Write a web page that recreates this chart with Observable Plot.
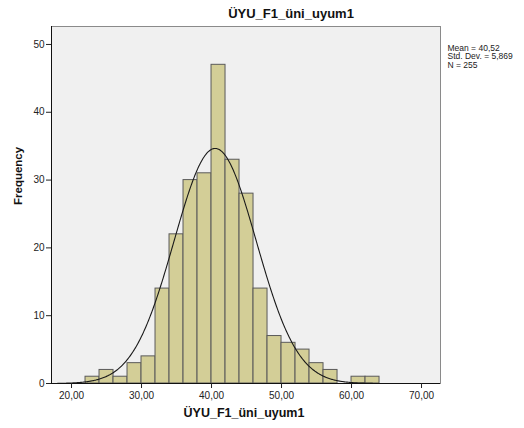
<!DOCTYPE html>
<html>
<head>
<meta charset="utf-8">
<script src="https://cdn.jsdelivr.net/npm/d3@7"></script>
<script src="https://cdn.jsdelivr.net/npm/@observablehq/plot@0.6"></script>
<style>
  html, body { margin: 0; padding: 0; background: #fff; }
  svg { font-family: "Liberation Sans", Arial, sans-serif; display: block; }
</style>
</head>
<body>
<div id="chart"></div>
<script>
// Histogram bins (lower edges, width 2) and frequencies
const binStarts = [22, 24, 26, 28, 30, 32, 34, 36, 38, 40, 42, 44, 46, 48, 50, 52, 54, 56, 58, 60, 62];
const counts    = [ 1,  2,  1,  3,  4, 14, 22, 30, 31, 47, 33, 28, 14,  7,  6,  5,  3,  2,  0,  1,  1];
const binWidth = 2;
// Summary statistics shown in the legend
const mean = 40.52;
const sd = 5.869;
const n = 255;
const xTicks = [20, 30, 40, 50, 60, 70];
const yTicks = [0, 10, 20, 30, 40, 50];
const title = "ÜYU_F1_üni_uyum1";
const xLabel = "ÜYU_F1_üni_uyum1";
const yLabel = "Frequency";
const legendLines = ["Mean = 40,52", "Std. Dev. = 5,869", "N = 255"];

const bins = binStarts.map((s, i) => ({x1: s, x2: s + binWidth, y: counts[i]})).filter(d => d.y > 0);
// Fitted normal curve from the displayed mean, SD and N
const curve = d3.range(18, 63.001, 0.1).map(x => ({
  x, y: n * binWidth * Math.exp(-0.5 * ((x - mean) / sd) ** 2) / (sd * Math.sqrt(2 * Math.PI))
}));
const fmt = v => v.toFixed(2).replace(".", ",");

const chart = Plot.plot({
  width: 524, height: 428,
  marginLeft: 51, marginRight: 84, marginTop: 26, marginBottom: 45,
  style: {fontFamily: "Liberation Sans, Arial, sans-serif", fontSize: "10px", color: "#222", overflow: "visible"},
  x: {domain: [17.14, 72.71], axis: null},
  y: {domain: [0, 52.65], axis: null},
  marks: [
    Plot.frame({fill: "#f0f0f0", stroke: "#8a8a8a"}),
    Plot.rectY(bins, {x1: "x1", x2: "x2", y: "y", fill: "#d3ce97", stroke: "#5a5a5a", strokeWidth: 1, inset: 0}),
    Plot.line(curve, {x: "x", y: "y", stroke: "#1a1a1a", strokeWidth: 1.1, curve: "linear"}),
    Plot.ruleY([0], {stroke: "#111"}),
    Plot.ruleX([17.14], {stroke: "#111"}),
    Plot.axisY({ticks: yTicks, tickSize: 5, tickPadding: 2, tickFormat: d => String(d), label: null, fontSize: 10, stroke: "#222"}),
    Plot.axisX({ticks: xTicks, tickSize: 5, tickPadding: 3, tickFormat: fmt, label: null, fontSize: 10, stroke: "#222"}),
    Plot.text([title], {frameAnchor: "top", text: d => d, dx: 45, dy: -9, fontSize: 13, fontWeight: "bold", fill: "#111", lineAnchor: "bottom"}),
    Plot.text([xLabel], {frameAnchor: "bottom", text: d => d, dx: -2, dy: 33, fontSize: 12.5, fontWeight: "bold", fill: "#111"}),
    Plot.text([yLabel], {frameAnchor: "left", text: d => d, rotate: -90, dx: -33, dy: 0, fontSize: 11.5, fontWeight: "bold", fill: "#111"}),
    Plot.text([legendLines.join("\n")], {frameAnchor: "top-right", text: d => d, textAnchor: "start", dx: 7, dy: 18, fontSize: 8.5, lineHeight: 1.0, fill: "#222", lineAnchor: "top"})
  ]
});
document.getElementById("chart").appendChild(chart);
</script>
</body>
</html>
